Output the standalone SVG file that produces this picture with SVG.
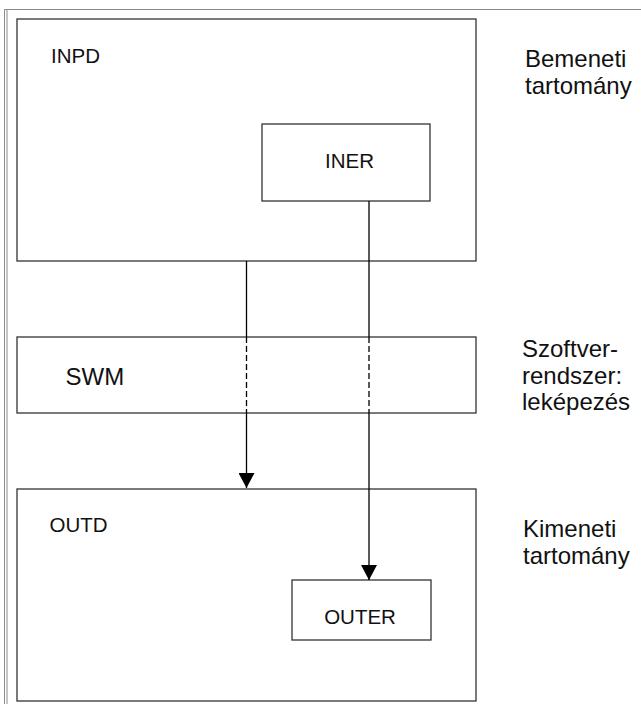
<svg xmlns="http://www.w3.org/2000/svg" width="641" height="704" viewBox="0 0 641 704">
  <style>
    .box { fill: #ffffff; stroke: #333333; stroke-width: 1.3; }
    .frame { fill: none; stroke: #8a8a8a; stroke-width: 1; }
    .link { fill: none; stroke: #000000; stroke-width: 1.3; }
    .dash { stroke-dasharray: 6 3; }
    .lbl { font-family: "Liberation Sans", Arial, sans-serif; font-size: 20.5px; fill: #111111; }
    .big { font-family: "Liberation Sans", Arial, sans-serif; font-size: 24px; fill: #111111; }
  </style>
  <defs>
    <marker id="arrow" markerUnits="userSpaceOnUse" viewBox="0 0 15 16" markerWidth="15" markerHeight="16" refX="15" refY="8" orient="auto">
      <path d="M0,0 L15,8 L0,16 Z" fill="#000000"/>
    </marker>
  </defs>

  <rect width="641" height="704" fill="#ffffff"/>

  <!-- page border -->
  <path class="frame" d="M4.5,704 V9.5 H641"/>
  <path class="frame" d="M7,704 V9.5"/>

  <!-- input domain -->
  <g id="inpd">
    <rect class="box" x="17" y="19" width="459" height="242"/>
    <text class="lbl" x="51" y="62.5">INPD</text>
  </g>
  <g id="iner">
    <rect class="box" x="262" y="124" width="168" height="77"/>
    <text class="lbl" x="349.5" y="168" text-anchor="middle">INER</text>
  </g>

  <!-- software mapping -->
  <g id="swm">
    <rect class="box" x="17" y="337" width="459" height="76"/>
    <text class="big" x="65.5" y="385">SWM</text>
  </g>

  <!-- output domain -->
  <g id="outd">
    <rect class="box" x="17" y="489" width="459" height="212"/>
    <text class="lbl" x="49.5" y="531.5">OUTD</text>
  </g>
  <g id="outer">
    <rect class="box" x="292" y="580" width="139" height="60"/>
    <text class="lbl" x="360" y="624" text-anchor="middle">OUTER</text>
  </g>

  <!-- side captions -->
  <g id="cap-input">
    <text class="big" x="525" y="66.5">Bemeneti</text>
    <text class="big" x="525" y="93.5">tartomány</text>
  </g>
  <g id="cap-mapping">
    <text class="big" x="522" y="357">Szoftver-</text>
    <text class="big" x="522" y="383.5">rendszer:</text>
    <text class="big" x="522" y="410">leképezés</text>
  </g>
  <g id="cap-output">
    <text class="big" x="523" y="537">Kimeneti</text>
    <text class="big" x="523" y="563.5">tartomány</text>
  </g>

  <!-- connectors: solid outside SWM, dashed through it -->
  <g id="connectors">
    <path class="link" d="M246.5,261 V337"/>
    <path class="link dash" d="M246.5,337 V413"/>
    <path class="link" d="M246.5,413 V488" marker-end="url(#arrow)"/>

    <path class="link" d="M369,201 V337"/>
    <path class="link dash" d="M369,337 V413"/>
    <path class="link" d="M369,413 V580" marker-end="url(#arrow)"/>
  </g>
</svg>
